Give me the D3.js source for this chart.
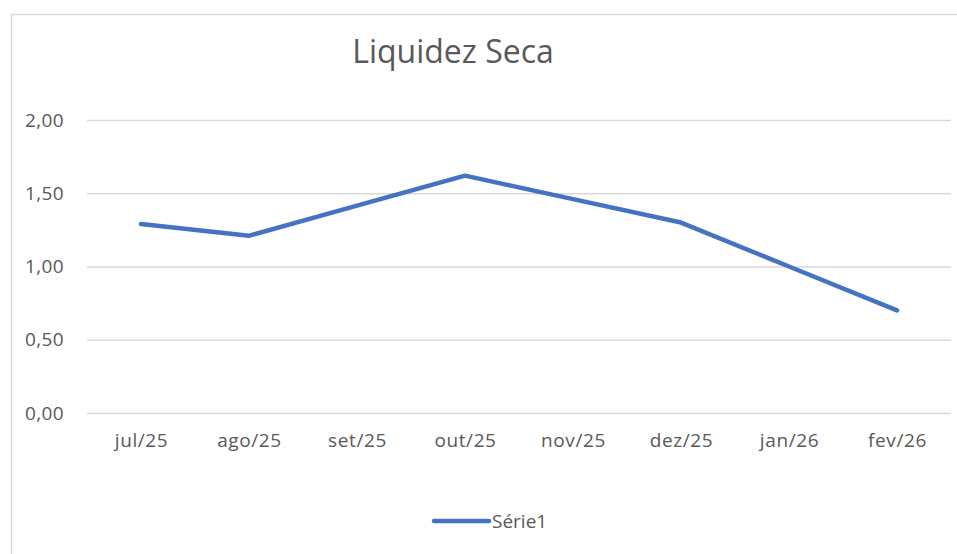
<!DOCTYPE html>
<html>
<head>
<meta charset="utf-8">
<script src="https://cdn.jsdelivr.net/npm/d3@7"></script>
<style>
  body { margin: 0; background: #fff; }
  text { font-family: "Open Sans", "Noto Sans", sans-serif; }
</style>
</head>
<body>
<script>
var months = ["jul/25", "ago/25", "set/25", "out/25", "nov/25", "dez/25", "jan/26", "fev/26"];
var serie1 = [1.29, 1.21, 1.415, 1.62, 1.46, 1.30, 1.00, 0.70];
var yTicks = [0, 0.5, 1, 1.5, 2];
var chartTitle = "Liquidez Seca";
var seriesName = "Série1";

var w = 957, h = 554;
var svg = d3.select("body").append("svg")
    .attr("width", w)
    .attr("height", h);

// chart area border (cropped on right/bottom)
svg.append("rect")
    .attr("x", 11.5).attr("y", 14.5)
    .attr("width", w + 10).attr("height", h + 10)
    .attr("fill", "#fff")
    .attr("stroke", "#d9d9d9")
    .attr("stroke-width", 1.5);

var plotLeft = 87, plotRight = 951, plotTop = 120, plotBottom = 413;

var x = d3.scalePoint()
    .domain(months)
    .range([plotLeft, plotRight])
    .padding(0.5);

var y = d3.scaleLinear()
    .domain([0, 2])
    .range([plotBottom, plotTop]);

var fmt = function(d) { return d3.format(".2f")(d).replace(".", ","); };

// gridlines + y labels
var yAxis = d3.axisLeft(y)
    .tickValues(yTicks)
    .tickSize(-(plotRight - plotLeft))
    .tickPadding(23)
    .tickFormat(fmt);

var gy = svg.append("g")
    .attr("transform", "translate(" + plotLeft + ",0)")
    .call(yAxis);
gy.select(".domain").remove();
gy.selectAll(".tick line").attr("stroke", "#d9d9d9").attr("stroke-width", 1.3);
gy.selectAll(".tick text")
    .attr("fill", "#595959")
    .style("font-size", "19px")
    .style("letter-spacing", "0.4px");

// x labels
var xAxis = d3.axisBottom(x).tickSize(0).tickPadding(21);
var gx = svg.append("g")
    .attr("transform", "translate(0," + plotBottom + ")")
    .call(xAxis);
gx.select(".domain").remove();
gx.selectAll(".tick text")
    .attr("fill", "#595959")
    .style("font-size", "19px")
    .style("letter-spacing", "0.6px");

// line
var line = d3.line()
    .x(function(d, i) { return x(months[i]); })
    .y(function(d) { return y(d); });

svg.append("path")
    .datum(serie1)
    .attr("d", line)
    .attr("fill", "none")
    .attr("stroke", "#4472c4")
    .attr("stroke-width", 4.5)
    .attr("stroke-linejoin", "round")
    .attr("stroke-linecap", "round");

// title
svg.append("text")
    .attr("x", 453)
    .attr("y", 63)
    .attr("text-anchor", "middle")
    .attr("fill", "#595959")
    .style("font-size", "32px")
    .text(chartTitle);

// legend
svg.append("line")
    .attr("x1", 434).attr("x2", 489)
    .attr("y1", 521).attr("y2", 521)
    .attr("stroke", "#4472c4")
    .attr("stroke-width", 4.5)
    .attr("stroke-linecap", "round");

svg.append("text")
    .attr("x", 492)
    .attr("y", 528)
    .attr("fill", "#595959")
    .style("font-size", "19px")
    .text(seriesName);
</script>
</body>
</html>
